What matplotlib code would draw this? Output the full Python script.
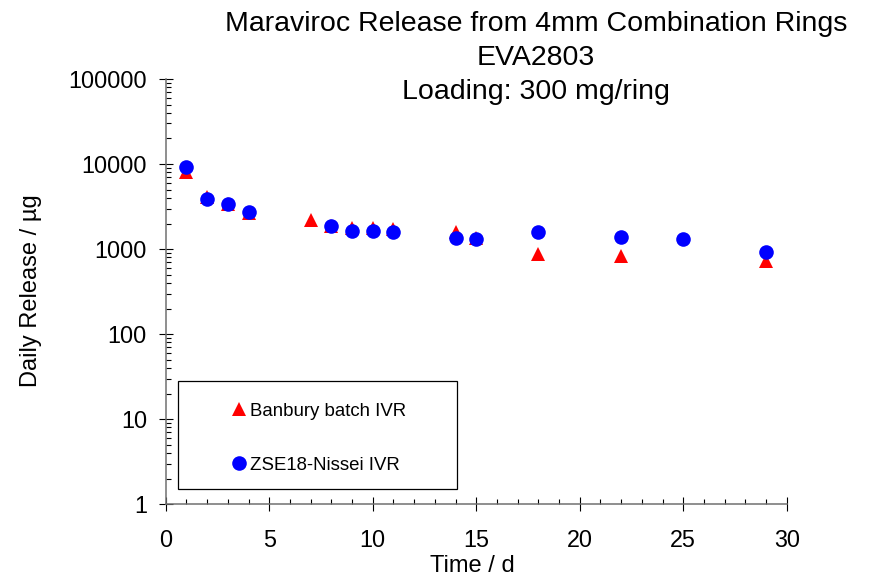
"""
Maraviroc daily release from 4mm combination rings (EVA2803), log scale.
"""

import matplotlib
matplotlib.use('Agg')
import matplotlib.pyplot as plt
import matplotlib.ticker as mtick
from matplotlib.patches import Rectangle

plt.rcParams['font.family'] = ['Liberation Sans', 'DejaVu Sans']

# data
days_banbury = [1, 2, 3, 4, 7, 8, 9, 10, 11, 14, 15, 18, 22, 29]
release_banbury = [8000, 4100, 3350, 2650, 2200, 1850, 1750, 1770, 1730, 1610, 1370, 870, 840, 730]
days_zse = [1, 2, 3, 4, 8, 9, 10, 11, 14, 15, 18, 22, 25, 29]
release_zse = [9300, 3850, 3350, 2730, 1870, 1630, 1640, 1590, 1350, 1315, 1580, 1400, 1320, 930]

title = 'Maraviroc Release from 4mm Combination Rings\nEVA2803\nLoading: 300 mg/ring'

fig = plt.figure(figsize=(8.69, 5.78), dpi=100)
ax = fig.add_axes([0.1907, 0.1275, 0.7146, 0.7358])

ax.plot(days_banbury, release_banbury, linestyle='none', marker='^', color='red',
        markersize=10.5, markeredgewidth=0, label='Banbury batch IVR')
ax.plot(days_zse, release_zse, linestyle='none', marker='o', color='blue',
        markersize=10.5, markeredgewidth=0, label='ZSE18-Nissei IVR')

ax.set_yscale('log')
ax.set_xlim(0, 30)
ax.set_ylim(1, 100000)
ax.xaxis.set_major_locator(mtick.MultipleLocator(5))
ax.xaxis.set_minor_locator(mtick.MultipleLocator(1))
ax.yaxis.set_major_locator(mtick.LogLocator(base=10, numticks=10))
ax.yaxis.set_minor_locator(mtick.LogLocator(base=10, subs=range(2, 10), numticks=10))
ax.yaxis.set_major_formatter(mtick.FuncFormatter(lambda v, p: '{:.0f}'.format(v)))
ax.yaxis.set_minor_formatter(mtick.NullFormatter())

for side in ['top', 'right']:
    ax.spines[side].set_visible(False)
for side in ['left', 'bottom']:
    ax.spines[side].set_color('#707070')
    ax.spines[side].set_linewidth(1.1)

ax.tick_params(which='major', direction='inout', length=9.5, width=0.8,
               color='black', labelsize=16.8, pad=13)
ax.tick_params(axis='y', which='major', length=10, pad=8.5)
ax.tick_params(which='minor', direction='in', length=3.8, width=0.8, color='black')

# legend: frame drawn by hand so the entries can sit inside it like the original
ax.add_patch(Rectangle((0.0193, 0.036), 0.4493, 0.254, transform=ax.transAxes,
                       fill=False, edgecolor='black', linewidth=0.9, zorder=5))
ax.legend(loc='upper left', bbox_to_anchor=(0.1064, 0.2394), frameon=False,
          fontsize=13.4, borderpad=0, borderaxespad=0, handlelength=0.8,
          handletextpad=0.2, labelspacing=2.0, numpoints=1)

fig.text(0.617, 0.981, title, fontsize=20.5, ha='center', va='top',
         multialignment='center', linespacing=1.39)
fig.text(472 / 869, 1 - 566 / 578, 'Time / d', fontsize=17, ha='center', va='center')
fig.text(31 / 869, 1 - 291 / 578, 'Daily Release / \u00b5g', fontsize=17,
         rotation=90, ha='center', va='center')

fig.savefig('out.png', dpi=100)
